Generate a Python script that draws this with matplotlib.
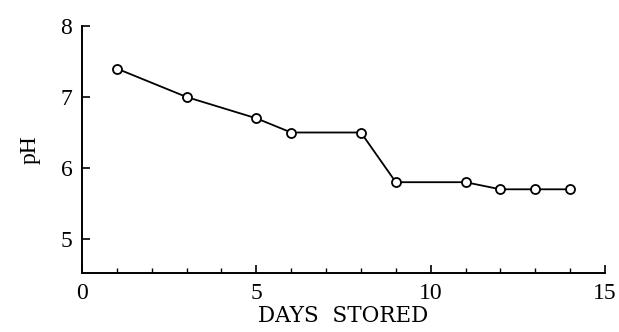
import matplotlib
matplotlib.use("Agg")
import matplotlib.pyplot as plt
from matplotlib.ticker import MultipleLocator

days = [1, 3, 5, 6, 8, 9, 11, 12, 13, 14]
ph = [7.4, 7.0, 6.7, 6.5, 6.5, 5.8, 5.8, 5.7, 5.7, 5.7]

plt.rcParams["font.family"] = ["Liberation Serif", "DejaVu Serif"]

fig = plt.figure(figsize=(6.19, 3.32), dpi=100)
left, right, top, bottom = 82, 605, 26, 273
ax = fig.add_axes([left / 619, 1 - bottom / 332, (right - left) / 619, (bottom - top) / 332])

ax.plot(days, ph, color="black", lw=1.3, marker="o", ms=6.5,
        mfc="white", mec="black", mew=1.3)

ax.set_xlim(0, 15)
ax.set_ylim(8 - (bottom - top) / 71.0, 8)
ax.set_xticks([0, 5, 10, 15])
ax.xaxis.set_minor_locator(MultipleLocator(1))
ax.set_yticks([5, 6, 7, 8])

ax.spines["top"].set_visible(False)
ax.spines["right"].set_visible(False)
ax.spines["left"].set_linewidth(1.4)
ax.spines["bottom"].set_linewidth(1.4)

ax.tick_params(axis="both", which="major", direction="in", length=6, width=1.2,
               labelsize=17)
ax.tick_params(axis="x", which="major", pad=7)
ax.tick_params(axis="y", which="major", pad=7)
ax.tick_params(axis="x", which="minor", direction="in", length=3.5, width=1.0)

ax.set_xlabel("DAYS  STORED", fontsize=15.5, labelpad=1,
              family=["DejaVu Serif"])
ax.set_ylabel("pH", fontsize=17, labelpad=14)

fig.savefig("out.png", dpi=100, facecolor="white")
